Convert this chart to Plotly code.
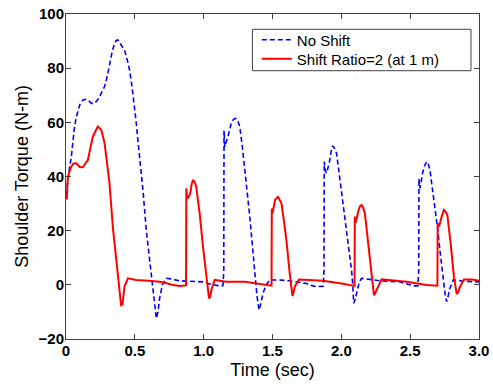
import plotly.graph_objects as go

# ---- data ----
t_noshift = [0, 0.01, 0.025, 0.038, 0.05, 0.062, 0.075, 0.086, 0.1, 0.122, 0.14, 0.159, 0.185, 0.207, 0.225,
             0.244, 0.26, 0.28, 0.3, 0.316, 0.335, 0.353, 0.365, 0.377, 0.39, 0.405, 0.425, 0.445, 0.462, 0.48,
             0.498, 0.51, 0.522, 0.535, 0.559, 0.583, 0.607, 0.627, 0.644, 0.656, 0.668, 0.68, 0.7, 0.729, 0.76,
             0.8, 0.825, 0.9, 0.995, 1.03, 1.068, 1.1, 1.14, 1.146, 1.148, 1.153, 1.165, 1.177, 1.19, 1.2, 1.215,
             1.233, 1.248, 1.262, 1.28, 1.298, 1.315, 1.335, 1.355, 1.371, 1.387, 1.402, 1.415, 1.431, 1.455,
             1.48, 1.54, 1.625, 1.7, 1.747, 1.78, 1.82, 1.868, 1.874, 1.876, 1.884, 1.892, 1.902, 1.912, 1.925,
             1.936, 1.95, 1.965, 1.982, 2.0, 2.02, 2.038, 2.056, 2.074, 2.083, 2.09, 2.1, 2.115, 2.13, 2.147,
             2.2, 2.28, 2.35, 2.425, 2.46, 2.498, 2.53, 2.556, 2.562, 2.564, 2.571, 2.58, 2.59, 2.605, 2.62,
             2.632, 2.644, 2.66, 2.68, 2.7, 2.716, 2.73, 2.745, 2.755, 2.765, 2.775, 2.784, 2.8, 2.813, 2.85,
             2.9, 2.98, 3.0]
torque_noshift = [33, 38, 43, 47, 53, 58.4, 62, 64.5, 66.5, 68.2, 68.5, 68.2, 67, 67, 68,
                  69.5, 71, 73.2, 77, 81.8, 86, 89.2, 90.2, 90.4, 89.5, 88.5, 86.7, 83, 79.3, 73,
                  65.8, 60, 53.5, 47.5, 35, 20.2, 9.2, 0.5, -9.3, -12.4, -10, -5, 0, 2.4, 2.2,
                  1.8, 1.5, 1.3, 1.1, 0.5, 0, -0.3, -0.3, 5, 57, 51, 53, 54.7, 57.5, 59.6, 61,
                  61.5, 60.5, 58.4, 51.5, 43.6, 34.5, 25.1, 14, 4.2, -4, -9.3, -7, -3.1, 0,
                  1.8, 1.8, 1.5, 1.0, 0.5, -0.2, -0.7, -0.5, 5, 45.5, 42, 41.2, 43, 44.9, 49,
                  51.3, 50.5, 48.6, 42, 35, 27.5, 20.2, 12.5, 5.5, 0, -6.8, -5.5, -1.9, 1, 2.4,
                  2.0, 1.5, 1.3, 1.1, 0.5, -0.1, -0.4, -0.4, 5, 39.3, 35.6, 38, 41.2, 44, 45.5,
                  44.5, 42.4, 36, 28.8, 20.5, 12.9, 6, -0.7, -4, -6.2, -4.5, -1.9, 0.5, 1.8, 1.6,
                  1.3, 1.1, 1.1]

t_shift = [0, 0.006, 0.012, 0.02, 0.038, 0.055, 0.074, 0.1, 0.122, 0.14, 0.159, 0.175, 0.195, 0.215,
           0.231, 0.245, 0.256, 0.268, 0.28, 0.292, 0.316, 0.34, 0.365, 0.384, 0.4, 0.41, 0.418, 0.425,
           0.45, 0.51, 0.6, 0.68, 0.74, 0.777, 0.825, 0.872, 0.874, 0.878, 0.886, 0.895, 0.903, 0.912,
           0.922, 0.935, 0.946, 0.958, 0.971, 0.995, 1.02, 1.039, 1.047, 1.056, 1.08, 1.165, 1.3, 1.383,
           1.44, 1.48, 1.493, 1.495, 1.5, 1.51, 1.52, 1.54, 1.552, 1.565, 1.585, 1.601, 1.625, 1.645,
           1.652, 1.662, 1.693, 1.868, 2.0, 2.062, 2.096, 2.098, 2.105, 2.122, 2.135, 2.147, 2.158, 2.171,
           2.195, 2.22, 2.237, 2.245, 2.256, 2.293, 2.474, 2.62, 2.698, 2.7, 2.71, 2.729, 2.745, 2.757,
           2.77, 2.794, 2.818, 2.838, 2.848, 2.862, 2.891, 2.95, 2.988, 3.0]
torque_shift = [32, 31.9, 38.7, 41, 43.6, 44.8, 44.9, 43.5, 43.4, 44.5, 46.1, 50, 54.7, 56.8,
                58.4, 57.8, 57.2, 55, 52.3, 47.5, 37.5, 21.5, 9.2, -1.9, -7.5, -7.2, -4, -0.7,
                2.4, 1.8, 1.5, 1.1, 0.5, -0.1, -0.4, -0.2, 35.6, 33, 31.9, 33, 33.8, 37,
                38.7, 38, 36.2, 31.5, 26.4, 14.1, 1.8, -5, -4.5, -1.9, 1.8, 1.1, 1.1, 0.5,
                0, -0.4, -0.3, 28.2, 26.4, 29, 31.5, 32.5, 31.5, 30.1, 23, 16.5, 4.2, -4.1,
                -3, -0.7, 2.0, 1.5, 0.5, -0.1, -0.4, 25.2, 23, 27, 29, 29.5, 28.5, 26.4,
                15.3, 3, -3.8, -3.3, -1.9, 2.0, 1.1, -0.1, -0.3, 22.7, 21.5, 25.2, 27.6, 27,
                25.8, 15.3, 3, -3.4, -2.8, -0.7, 2.0, 2.0, 1.5, 1.5]

x_tickvals = [0, 0.5, 1.0, 1.5, 2.0, 2.5, 3.0]
x_ticktext = ["0", "0.5", "1.0", "1.5", "2.0", "2.5", "3.0"]
y_tickvals = [-20, 0, 20, 40, 60, 80, 100]

FONT = "Liberation Sans, Arial, sans-serif"
FRAME = "#404040"

fig = go.Figure()
fig.add_trace(go.Scatter(x=t_noshift, y=torque_noshift, mode="lines", name="No Shift",
                         legend="legend",
                         line=dict(color="#0000FF", width=1.6, dash="5px,3px")))
fig.add_trace(go.Scatter(x=t_shift, y=torque_shift, mode="lines", name="Shift Ratio=2 (at 1 m)",
                         legend="legend2",
                         line=dict(color="#FF0000", width=2)))

axis_common = dict(showgrid=False, zeroline=False, showline=True, linecolor=FRAME, linewidth=1,
                   mirror="ticks", ticks="inside", ticklen=5, tickcolor=FRAME, automargin=False,
                   tickfont=dict(family=FONT, size=15, color="black", weight="bold"))

leg_common = dict(xanchor="left", yanchor="top", bgcolor="rgba(0,0,0,0)", borderwidth=0,
                  font=dict(family=FONT, size=15, color="black"), itemwidth=30)

fig.update_layout(
    width=493, height=385,
    margin=dict(l=66, r=14, t=14, b=46),
    paper_bgcolor="white", plot_bgcolor="white",
    showlegend=True,
    legend=dict(x=0.462, y=0.971, **leg_common),
    legend2=dict(x=0.462, y=0.912, **leg_common),
    shapes=[dict(type="rect", xref="paper", yref="paper", x0=0.4514, x1=0.9806, y0=0.8255, y1=0.9529,
                 line=dict(color=FRAME, width=1), fillcolor="rgba(0,0,0,0)", layer="above")],
    xaxis=dict(range=[0, 3.0], tickvals=x_tickvals, ticktext=x_ticktext, ticklabelstandoff=-2,
               title=dict(text="Time (sec)", font=dict(family=FONT, size=18, color="black"), standoff=5),
               **axis_common),
    yaxis=dict(range=[-20, 100], tickvals=y_tickvals, ticklabelstandoff=-2,
               title=dict(text="Shoulder Torque (N-m)", font=dict(family=FONT, size=18, color="black"), standoff=5),
               **axis_common),
)

fig.write_html("out.html")
